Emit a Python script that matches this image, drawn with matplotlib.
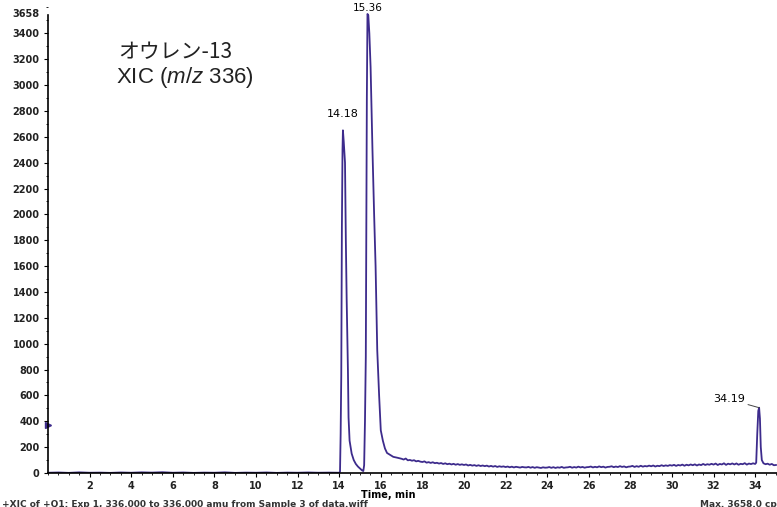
import numpy as np
import matplotlib
matplotlib.use("Agg")
import matplotlib.pyplot as plt
from matplotlib.ticker import MultipleLocator

plt.rcParams['font.family'] = ['DejaVu Sans']
plt.rcParams['mathtext.fontset'] = 'custom'
plt.rcParams['mathtext.rm'] = 'Liberation Sans'
plt.rcParams['mathtext.it'] = 'Liberation Sans:italic'

# Dữ liệu sắc ký đồ (XIC m/z 336)
t_dau = [0.0, 0.5, 1.0, 1.5, 2.0, 2.5, 3.0, 3.5, 4.0, 4.5, 5.0, 5.5, 6.0, 6.5,
         7.0, 7.5, 8.0, 8.5, 9.0, 9.5, 10.0, 10.5, 11.0, 11.5, 12.0, 12.5, 13.0, 13.5, 14.0]
y_dau = [2, 4, 1, 5, 2, 3, 1, 4, 2, 5, 3, 6, 2, 4, 1, 3, 2, 5, 1, 3, 2, 4, 1, 3, 2, 4, 2, 3, 2]

t_dinh = [14.04, 14.07, 14.10, 14.13, 14.16, 14.18, 14.22, 14.28, 14.32, 14.36, 14.42, 14.45,
          14.50, 14.60, 14.70, 14.80, 14.90, 15.00, 15.10, 15.16,
          15.20, 15.24, 15.28, 15.31, 15.33, 15.36, 15.40, 15.45, 15.51, 15.60, 15.68, 15.75,
          15.83, 15.92, 16.00, 16.10, 16.20, 16.30, 16.45, 16.60, 16.80]
y_dinh = [10, 300, 750, 1900, 2500, 2650, 2560, 2400, 1800, 1340, 800, 430,
          250, 150, 100, 70, 50, 35, 20, 15,
          60, 400, 900, 2000, 2900, 3550, 3540, 3400, 3140, 2500, 2000, 1600,
          950, 600, 330, 250, 190, 155, 140, 125, 118]

# đường nền từ 17.0 đến 34.0 phút, mỗi 0.1 phút
t_nen = np.round(np.arange(17.0, 34.001, 0.1), 2)
y_nen = [110, 104, 112, 98, 101, 95, 99, 90, 94, 88,
         85, 90, 80, 84, 78, 83, 76, 79, 73, 77,
         70, 75, 68, 72, 66, 71, 64, 69, 63, 67,
         62, 66, 58, 63, 57, 61, 55, 60, 54, 58,
         53, 57, 50, 55, 49, 54, 47, 52, 48, 51,
         46, 50, 44, 49, 43, 48, 45, 42, 47, 44,
         43, 47, 41, 46, 40, 45, 42, 39, 44, 41,
         42, 46, 40, 45, 39, 44, 41, 47, 40, 43,
         44, 48, 41, 46, 42, 49, 43, 47, 41, 45,
         46, 50, 43, 48, 44, 51, 45, 49, 42, 47,
         48, 52, 45, 50, 46, 53, 47, 51, 44, 49,
         50, 55, 47, 53, 48, 56, 49, 54, 51, 57,
         52, 58, 50, 56, 53, 60, 54, 59, 55, 61,
         57, 63, 55, 62, 58, 65, 56, 64, 59, 66,
         60, 67, 58, 66, 61, 70, 62, 68, 64, 71,
         65, 73, 62, 70, 66, 75, 63, 72, 67, 74,
         66, 74, 64, 71, 68, 76, 65, 73, 69, 75,
         70]

t_cuoi = [34.05, 34.10, 34.15, 34.19, 34.23, 34.27, 34.32, 34.40, 34.50, 34.60, 34.70, 34.80, 34.90, 35.00]
y_cuoi = [80, 300, 480, 505, 420, 200, 100, 75, 68, 72, 64, 70, 60, 62]

nhan_dinh = ["14.18", "15.36", "34.19"]
vi_tri_dinh = [(14.18, 2650), (15.36, 3550), (34.19, 505)]
y_max = 3658

t = np.concatenate([t_dau, t_dinh, t_nen, t_cuoi])
y = np.concatenate([y_dau, y_dinh, y_nen, y_cuoi])

mau = '#3d2b8c'
fig = plt.figure(figsize=(7.77, 5.07), dpi=100)
ax = fig.add_axes([48 / 777, 34 / 507, 729 / 777, 473 / 507])
ax.plot(t, y, color=mau, linewidth=1.3)

ax.set_xlim(0, 35.05)
ax.set_ylim(0, y_max)
ax.spines['top'].set_visible(False)
ax.spines['right'].set_visible(False)
ax.spines['left'].set_bounds(0, 3545)
ax.spines['left'].set_linewidth(1.2)
ax.spines['bottom'].set_linewidth(1.2)

ax.set_xticks(np.arange(2, 35, 2))
ax.xaxis.set_minor_locator(MultipleLocator(0.5))
ax.set_yticks(np.arange(0, 3401, 200))
ax.yaxis.set_minor_locator(MultipleLocator(100))
ax.tick_params(axis='both', which='major', length=3, width=0.8, labelsize=7, pad=3)
ax.tick_params(axis='both', which='minor', length=1.5, width=0.6)
for lb in ax.get_xticklabels() + ax.get_yticklabels():
    lb.set_fontweight('bold')
    lb.set_color('#222222')
ax.annotate(str(y_max), xy=(0, y_max), xycoords='data', xytext=(-6, -10),
            textcoords='offset points', ha='right', va='center',
            fontsize=7, fontweight='bold', color='#222222', annotation_clip=False)

# con trỏ nhỏ ở trục tung
ax.plot([0], [370], marker='>', color=mau, markersize=4, clip_on=False)

ax.set_xlabel('Time, min', fontsize=7, fontweight='bold', labelpad=1)
ax.xaxis.set_label_coords((388 - 48) / 729, -0.036)

# nhãn đỉnh
ax.annotate(nhan_dinh[0], xy=vi_tri_dinh[0], xytext=(0, 8), textcoords='offset points',
            ha='center', va='bottom', fontsize=8)
ax.annotate(nhan_dinh[1], xy=vi_tri_dinh[1], xytext=(0, 1), textcoords='offset points',
            ha='center', va='bottom', fontsize=7.5, annotation_clip=False)
ax.annotate(nhan_dinh[2], xy=vi_tri_dinh[2], xytext=(-10, 6), textcoords='offset points',
            ha='right', va='center', fontsize=8,
            arrowprops=dict(arrowstyle='-', color='#444444', lw=0.7, shrinkA=0, shrinkB=0))

# tiêu đề trong khung
fig.text(118 / 777, 1 - 52 / 507, 'オウレン-13', fontsize=15, va='center', ha='left',
         family=['Noto Sans CJK JP', 'DejaVu Sans'], color='#222222')
fig.text(116 / 777, 1 - 78 / 507, r'XIC ($\mathit{m/z}$ 336)', fontsize=16, va='center', ha='left',
         family=['Liberation Sans'], color='#222222')

# dòng chú thích bị cắt ở đáy hình
fig.text(2 / 777, 7 / 507, '+XIC of +Q1: Exp 1, 336.000 to 336.000 amu from Sample 3 of data.wiff',
         fontsize=6.5, fontweight='bold', va='top', ha='left', color='#333333')
fig.text(700 / 777, 7 / 507, 'Max. 3658.0 cps.', fontsize=6.5, fontweight='bold',
         va='top', ha='left', color='#333333')

fig.savefig('out.png', dpi=100)
